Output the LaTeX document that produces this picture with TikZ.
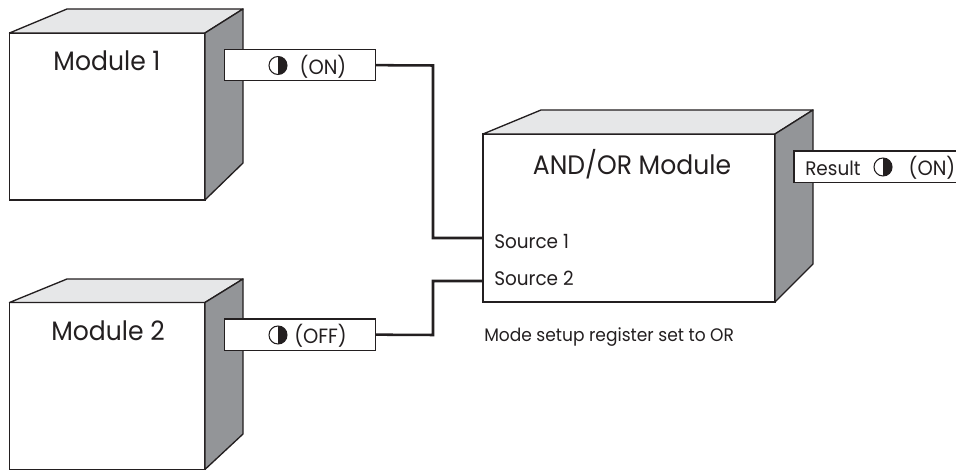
\documentclass[tikz,border=0pt]{standalone}
\usepackage{fontspec}
\setmainfont{Poppins}[FakeStretch=0.94]
\definecolor{topgray}{HTML}{E6E7E8}
\definecolor{sidegray}{HTML}{939598}
\definecolor{inkk}{HTML}{231F20}
\tikzset{
  x=0.75pt, y=-0.75pt,
  front/.style={draw=inkk, line width=1pt, fill=white, inner sep=0pt, outer sep=0pt, anchor=north west},
  facetop/.style={draw=inkk, line width=1pt, fill=topgray, line join=round},
  faceside/.style={draw=inkk, line width=1pt, fill=sidegray, line join=round},
  tagbox/.style={draw=inkk, line width=0.9pt, fill=white, inner sep=0pt, outer sep=0pt, anchor=north west, minimum height=23.5pt},
  wire/.style={draw=inkk, line width=1.9pt, line join=miter},
  title/.style={text=inkk, font=\fontsize{20}{23}\selectfont, inner sep=0pt},
  small/.style={text=inkk, font=\fontsize{14.7}{17}\selectfont, inner sep=0pt},
  note/.style={text=inkk, font=\fontsize{13.6}{16}\selectfont, inner sep=0pt},
  state/.style={text=inkk, font=\fontsize{15.5}{18}\selectfont, inner sep=0pt},
  halfdot/.style={circle, draw=inkk, line width=0.8pt, fill=white, minimum size=13.5pt, inner sep=0pt, outer sep=0pt,
    path picture={\fill[inkk] (path picture bounding box.north) rectangle (path picture bounding box.south east);}},
}
\begin{document}
\begin{tikzpicture}
\useasboundingbox (0,0) rectangle (956,470);
% Module 1
\node[front, minimum width=146.6pt, minimum height=125.2pt] (m1) at (9.5,33) {};
\coordinate (m1tl) at (67,9); \coordinate (m1tr) at (243,9); \coordinate (m1br) at (243,163);
\draw[facetop] (m1.north west) -- (m1tl) -- (m1tr) -- (m1.north east) -- cycle;
\draw[faceside] (m1.north east) -- (m1tr) -- (m1br) -- (m1.south east) -- cycle;
\node[title] (m1t) at (107,61) {Module 1};
\node[tagbox, minimum width=113.5pt] (t1) at (224.5,49.5) {};
\node[halfdot] (d1) at (278,65.5) {};
\node[state] (s1) at (323,67) {(ON)};
% Module 2
\node[front, minimum width=146.6pt, minimum height=125.2pt] (m2) at (9.5,302.5) {};
\coordinate (m2tl) at (67,279); \coordinate (m2tr) at (243,279); \coordinate (m2br) at (243,434);
\draw[facetop] (m2.north west) -- (m2tl) -- (m2tr) -- (m2.north east) -- cycle;
\draw[faceside] (m2.north east) -- (m2tr) -- (m2br) -- (m2.south east) -- cycle;
\node[title] (m2t) at (108,331) {Module 2};
\node[tagbox, minimum width=113.5pt] (t2) at (224.5,319) {};
\node[halfdot] (d2) at (278,335) {};
\node[state] (s2) at (320.5,336) {(OFF)};
% AND/OR
\node[front, minimum width=219pt, minimum height=126pt] (am) at (483,134) {};
\coordinate (atl) at (541,110); \coordinate (atr) at (813,110); \coordinate (abr) at (813,264);
\draw[facetop] (am.north west) -- (atl) -- (atr) -- (am.north east) -- cycle;
\draw[faceside] (am.north east) -- (atr) -- (abr) -- (am.south east) -- cycle;
\node[title] (at) at (632,164) {AND/OR Module};
\node[small, anchor=west] (src1) at (494,242) {Source 1};
\node[small, anchor=west] (src2) at (494,278) {Source 2};
\node[note, anchor=west] (mode) at (484,337.5) {Mode setup register set to OR};
\node[tagbox, minimum width=122pt] (rt) at (794,151) {};
\node[small, anchor=west] (rl) at (805,168) {Result};
\node[halfdot] (rd) at (883,167) {};
\node[state] (rs) at (932,168) {(ON)};
% Wires
\coordinate (p1) at (am.west |- 0,238);
\coordinate (p2) at (am.west |- 0,281);
\draw[wire] (t1.east) -- (433,65.5) -- (433,238) -- (p1);
\draw[wire] (t2.east) -- (433,335) -- (433,281) -- (p2);
\end{tikzpicture}
\end{document}
